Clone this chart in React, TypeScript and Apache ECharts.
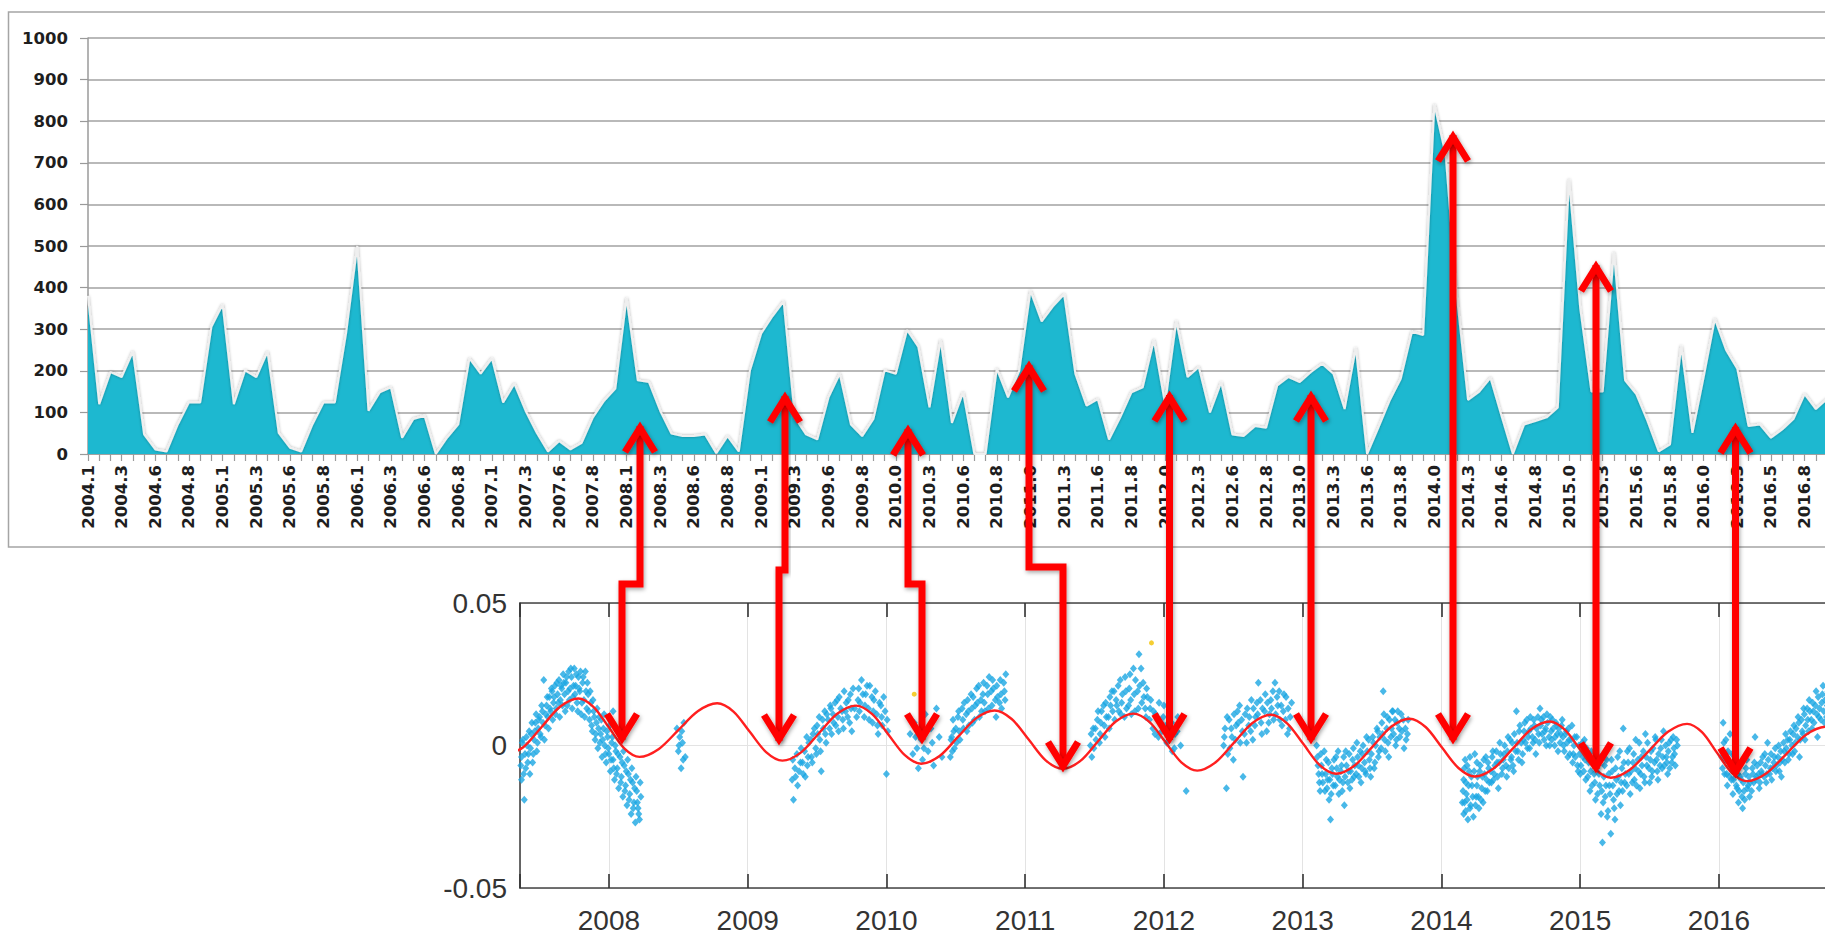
import React, { useEffect, useRef } from "react";
import * as echarts from "echarts";

// ---------- top chart (monthly area) ----------
const tickLabels = [
  "2004.1","2004.3","2004.6","2004.8","2005.1","2005.3","2005.6","2005.8",
  "2006.1","2006.3","2006.6","2006.8","2007.1","2007.3","2007.6","2007.8",
  "2008.1","2008.3","2008.6","2008.8","2009.1","2009.3","2009.6","2009.8",
  "2010.0","2010.3","2010.6","2010.8","2011.0","2011.3","2011.6","2011.8",
  "2012.0","2012.3","2012.6","2012.8","2013.0","2013.3","2013.6","2013.8",
  "2014.0","2014.3","2014.6","2014.8","2015.0","2015.3","2015.6","2015.8",
  "2016.0","2016.3","2016.5","2016.8","2017.0"
];
const lastShownLabel = "2016.8";

const areaValues = [
  380,120,197,185,246,47,11,6,71,124,124,306,359,120,201,185,246,51,15,6,
  71,124,124,290,500,104,148,160,39,84,92,0,39,71,230,193,230,124,169,104,
  51,6,31,11,27,88,128,157,375,177,173,104,49,43,43,47,2,43,6,201,
  290,331,367,88,47,35,136,193,71,43,84,201,193,298,258,112,274,75,148,0,
  0,205,136,200,392,319,355,384,193,116,132,35,88,148,160,274,120,320,185,209,
  100,173,47,43,67,63,165,185,173,197,217,193,108,255,0,63,128,181,294,286,
  840,720,380,130,150,183,90,0,71,79,88,112,660,350,150,150,485,177,144,79,
  6,23,260,51,185,325,250,205,67,71,39,59,84,144,108,132,140
];

const categories = areaValues.map((_, i) =>
  i % 3 === 0 ? tickLabels[i / 3] : tickLabels[Math.floor(i / 3)] + "-" + (i % 3)
);

// ---------- bottom chart (scatter + fitted curve) ----------
const seg2007: number[][] = [
  [2007.37,-0.004],[2007.37,-0.012],[2007.38,0.002],[2007.39,-0.019],[2007.40,-0.008],[2007.41,0.000],
  [2007.42,-0.003],[2007.43,-0.010],[2007.44,0.004],[2007.45,-0.006],[2007.46,0.002],[2007.47,0.008],
  [2007.48,-0.002],[2007.49,0.006],[2007.50,0.010],[2007.51,0.003],[2007.52,0.012],[2007.53,0.023],
  [2007.54,0.007],[2007.55,0.014],[2007.56,0.010],[2007.57,0.017],[2007.58,0.012],[2007.59,0.019],
  [2007.60,0.015],[2007.61,0.021],[2007.62,0.013],[2007.63,0.018],[2007.64,0.023],[2007.65,0.016],
  [2007.66,0.020],[2007.67,0.025],[2007.68,0.018],[2007.69,0.022],[2007.70,0.014],[2007.71,0.026],
  [2007.72,0.020],[2007.73,0.024],[2007.74,0.017],[2007.75,0.027],[2007.76,0.021],[2007.77,0.015],
  [2007.78,0.024],[2007.79,0.019],[2007.80,0.011],[2007.81,0.022],[2007.82,0.016],[2007.83,0.026],
  [2007.84,0.013],[2007.85,0.018],[2007.86,0.009],[2007.87,0.015],[2007.88,0.005],[2007.89,0.012],
  [2007.90,0.002],[2007.91,0.008],[2007.92,-0.001],[2007.93,0.010],[2007.94,0.004],[2007.95,-0.004],
  [2007.96,0.006],[2007.97,0.000],[2007.98,-0.006],[2007.99,0.003],[2008.00,-0.003],[2008.01,-0.009],
  [2008.02,0.001],[2008.03,0.012],[2008.03,-0.005],[2008.04,-0.012],[2008.05,-0.002],[2008.06,-0.008],
  [2008.07,-0.015],[2008.08,-0.004],[2008.09,-0.011],[2008.10,-0.018],[2008.11,-0.007],[2008.12,-0.014],
  [2008.13,-0.021],[2008.14,-0.010],[2008.15,-0.017],[2008.16,-0.024],[2008.17,-0.013],[2008.18,-0.020],
  [2008.19,-0.027],[2008.20,-0.016],[2008.21,-0.022],[2008.22,-0.026],[2008.23,-0.018],
  [2007.365,-0.007],[2007.375,0.001],[2007.385,-0.010],[2007.395,-0.003],[2007.405,0.003],[2007.415,-0.006],
  [2007.425,0.005],[2007.435,-0.001],[2007.445,0.008],[2007.455,-0.003],[2007.465,0.005],[2007.475,0.011],
  [2007.485,0.001],[2007.495,0.009],[2007.505,0.004],[2007.515,0.014],[2007.525,0.008],[2007.535,0.002],
  [2007.545,0.011],[2007.555,0.017],[2007.565,0.006],[2007.575,0.013],[2007.585,0.020],[2007.595,0.009],
  [2007.605,0.017],[2007.615,0.011],[2007.625,0.022],[2007.635,0.015],[2007.645,0.010],[2007.655,0.021],
  [2007.665,0.014],[2007.675,0.022],[2007.685,0.012],[2007.695,0.024],[2007.705,0.019],[2007.715,0.016],
  [2007.725,0.027],[2007.735,0.013],[2007.745,0.021],[2007.755,0.018],[2007.765,0.025],[2007.775,0.012],
  [2007.785,0.020],[2007.795,0.026],[2007.805,0.015],[2007.815,0.024],[2007.825,0.010],[2007.835,0.019],
  [2007.845,0.022],[2007.855,0.012],[2007.865,0.019],[2007.875,0.007],[2007.885,0.016],[2007.895,0.010],
  [2007.905,0.004],[2007.915,0.013],[2007.925,0.006],[2007.935,0.001],[2007.945,0.009],[2007.955,0.002],
  [2007.965,0.011],[2007.975,-0.003],[2007.985,0.005],[2007.995,-0.001],[2008.005,0.007],[2008.015,-0.005],
  [2008.025,0.003],[2008.035,-0.008],[2008.045,0.000],[2008.055,-0.010],[2008.065,-0.003],[2008.075,0.004],
  [2008.085,-0.013],[2008.095,-0.006],[2008.105,-0.002],[2008.115,-0.016],[2008.125,-0.009],[2008.135,-0.005],
  [2008.145,-0.019],[2008.155,-0.012],[2008.165,-0.008],[2008.175,-0.022],[2008.185,-0.015],[2008.195,-0.011],
  [2008.205,-0.020],[2008.215,-0.024],[2008.225,-0.013]
];

const seg2008: number[][] = [
  [2008.49,0.006],[2008.50,-0.002],[2008.51,0.003],[2008.52,-0.008],[2008.53,0.001],[2008.54,0.008],[2008.55,-0.004],
  [2008.505,0.000],[2008.525,0.005],[2008.535,-0.005]
];

const seg2009: number[][] = [
  [2009.32,-0.012],[2009.33,-0.019],[2009.34,-0.008],[2009.36,-0.014],[2009.38,-0.006],[2009.40,-0.010],
  [2009.41,-0.002],[2009.43,-0.007],[2009.44,0.001],[2009.46,-0.004],[2009.47,0.004],[2009.49,-0.001],
  [2009.50,0.007],[2009.52,0.002],[2009.53,-0.009],[2009.54,0.009],[2009.56,0.004],[2009.57,0.011],
  [2009.59,0.006],[2009.60,0.013],[2009.62,0.008],[2009.63,0.015],[2009.65,0.010],[2009.66,0.017],
  [2009.68,0.012],[2009.69,0.006],[2009.71,0.015],[2009.72,0.010],[2009.74,0.018],[2009.75,0.005],
  [2009.77,0.013],[2009.80,0.020],[2009.81,0.015],[2009.82,0.023],[2009.84,0.010],[2009.85,0.018],
  [2009.87,0.013],[2009.88,0.021],[2009.90,0.008],[2009.91,0.016],[2009.93,0.011],[2009.94,0.004],
  [2009.96,0.014],[2009.97,0.007],[2009.99,0.012],[2010.00,-0.010],[2010.01,0.005],
  [2009.325,-0.005],[2009.345,-0.011],[2009.355,-0.003],[2009.37,-0.009],[2009.385,-0.001],[2009.395,-0.006],
  [2009.415,-0.011],[2009.425,0.003],[2009.435,-0.004],[2009.455,0.002],[2009.465,-0.006],[2009.48,0.006],
  [2009.495,-0.003],[2009.505,0.004],[2009.515,0.010],[2009.525,-0.002],[2009.545,0.006],[2009.555,0.012],
  [2009.565,0.001],[2009.58,0.009],[2009.595,0.014],[2009.605,0.004],[2009.615,0.011],[2009.635,0.007],
  [2009.645,0.016],[2009.655,0.005],[2009.67,0.013],[2009.685,0.009],[2009.695,0.019],[2009.705,0.012],
  [2009.725,0.016],[2009.735,0.008],[2009.745,0.013],[2009.76,0.020],[2009.785,0.010],[2009.795,0.016],
  [2009.805,0.012],[2009.83,0.018],[2009.845,0.014],[2009.86,0.021],[2009.875,0.009],[2009.895,0.017],
  [2009.905,0.012],[2009.92,0.019],[2009.935,0.007],[2009.95,0.015],[2009.965,0.010],[2009.98,0.017],
  [2010.005,0.009]
];

const seg2010: number[][] = [
  [2010.17,0.004],[2010.19,-0.003],[2010.20,0.008],[2010.22,-0.001],[2010.23,-0.008],[2010.25,0.002],
  [2010.26,-0.005],[2010.28,0.011],[2010.30,-0.002],[2010.32,0.006],[2010.34,-0.007],[2010.36,0.013],
  [2010.38,0.003],[2010.40,-0.004],[2010.21,0.003],[2010.27,-0.001],[2010.33,0.001],
  [2010.46,-0.004],[2010.47,0.003],[2010.48,0.009],[2010.49,-0.001],[2010.50,0.006],[2010.52,0.012],
  [2010.53,0.002],[2010.55,0.009],[2010.56,0.015],[2010.58,0.005],[2010.59,0.012],[2010.61,0.018],
  [2010.62,0.008],[2010.64,0.014],[2010.65,0.020],[2010.67,0.010],[2010.68,0.016],[2010.70,0.022],
  [2010.71,0.012],[2010.73,0.018],[2010.74,0.024],[2010.76,0.014],[2010.77,0.020],[2010.79,0.010],
  [2010.80,0.017],[2010.82,0.023],[2010.83,0.013],[2010.85,0.019],[2010.86,0.025],
  [2010.465,0.002],[2010.475,-0.002],[2010.485,0.005],[2010.505,0.001],[2010.515,0.010],[2010.525,0.005],
  [2010.545,0.013],[2010.555,0.006],[2010.575,0.011],[2010.585,0.016],[2010.595,0.007],[2010.615,0.013],
  [2010.625,0.017],[2010.635,0.009],[2010.655,0.015],[2010.665,0.021],[2010.685,0.012],[2010.695,0.018],
  [2010.705,0.015],[2010.725,0.021],[2010.735,0.013],[2010.755,0.019],[2010.765,0.023],[2010.785,0.016],
  [2010.795,0.021],[2010.815,0.015],[2010.825,0.018],[2010.845,0.022],[2010.855,0.016]
];

const seg2011: number[][] = [
  [2011.47,0.000],[2011.48,-0.004],[2011.49,0.006],[2011.51,0.002],[2011.52,0.009],[2011.54,0.004],
  [2011.55,0.012],[2011.57,0.007],[2011.58,0.015],[2011.60,0.010],[2011.61,0.017],[2011.63,0.012],
  [2011.64,0.019],[2011.66,0.014],[2011.67,0.021],[2011.69,0.011],[2011.70,0.018],[2011.72,0.024],
  [2011.73,0.013],[2011.75,0.020],[2011.76,0.016],[2011.78,0.027],[2011.79,0.012],[2011.81,0.019],
  [2011.82,0.032],[2011.84,0.015],[2011.85,0.022],[2011.87,0.010],[2011.88,0.017],[2011.90,0.013],
  [2011.92,0.006],[2011.94,0.011],[2011.96,0.003],[2011.98,0.008],[2012.00,0.014],[2012.02,0.001],
  [2012.04,0.006],[2012.06,-0.002],[2012.08,0.004],[2012.10,0.010],[2012.12,0.000],[2012.16,-0.016],
  [2011.475,0.004],[2011.495,-0.001],[2011.505,0.006],[2011.525,0.012],[2011.535,0.001],[2011.545,0.008],
  [2011.565,0.014],[2011.575,0.003],[2011.585,0.010],[2011.605,0.006],[2011.615,0.014],[2011.625,0.019],
  [2011.645,0.009],[2011.655,0.016],[2011.675,0.012],[2011.685,0.023],[2011.695,0.015],[2011.715,0.010],
  [2011.725,0.019],[2011.745,0.014],[2011.755,0.025],[2011.765,0.011],[2011.785,0.018],[2011.795,0.023],
  [2011.815,0.013],[2011.825,0.021],[2011.835,0.027],[2011.855,0.017],[2011.865,0.013],[2011.875,0.020],
  [2011.895,0.009],[2011.905,0.016],[2011.925,0.012],[2011.935,0.004],[2011.955,0.009],[2011.965,0.015],
  [2011.985,0.005],[2011.995,0.010],[2012.015,0.007],[2012.035,0.003],[2012.055,0.008],[2012.075,-0.001],
  [2012.095,0.005]
];

const seg2012: number[][] = [
  [2012.45,-0.015],[2012.43,0.000],[2012.44,0.006],[2012.46,-0.003],[2012.47,0.009],[2012.49,0.003],
  [2012.50,-0.005],[2012.52,0.007],[2012.53,0.012],[2012.55,0.001],[2012.56,0.009],[2012.57,-0.011],
  [2012.58,0.004],[2012.60,0.013],[2012.61,0.007],[2012.63,0.016],[2012.64,0.002],[2012.66,0.010],
  [2012.67,0.015],[2012.68,0.022],[2012.70,0.008],[2012.71,0.013],[2012.73,0.018],[2012.74,0.005],
  [2012.76,0.011],[2012.77,0.016],[2012.79,0.009],[2012.80,0.022],[2012.82,0.014],[2012.83,0.019],
  [2012.85,0.007],[2012.86,0.012],[2012.88,0.017],[2012.89,0.004],[2012.91,0.010],[2012.92,0.015],
  [2012.435,0.003],[2012.455,0.010],[2012.475,-0.001],[2012.485,0.006],[2012.505,0.011],[2012.515,0.002],
  [2012.535,0.008],[2012.545,0.014],[2012.565,0.005],[2012.585,0.011],[2012.595,0.001],[2012.615,0.010],
  [2012.625,0.005],[2012.645,0.013],[2012.655,0.007],[2012.675,0.011],[2012.695,0.016],[2012.705,0.004],
  [2012.725,0.012],[2012.745,0.015],[2012.755,0.008],[2012.775,0.013],[2012.785,0.019],[2012.805,0.011],
  [2012.815,0.017],[2012.835,0.009],[2012.845,0.014],[2012.865,0.018],[2012.875,0.009],[2012.895,0.013],
  [2012.905,0.006]
];

const seg2013: number[][] = [
  [2013.10,0.000],[2013.11,-0.007],[2013.12,-0.013],[2013.13,-0.003],[2013.14,-0.010],[2013.16,-0.016],
  [2013.17,-0.005],[2013.18,-0.012],[2013.19,-0.019],[2013.20,-0.026],[2013.21,-0.008],[2013.22,-0.014],
  [2013.24,-0.004],[2013.25,-0.011],[2013.26,-0.017],[2013.28,-0.007],[2013.29,-0.013],[2013.30,-0.021],
  [2013.31,-0.002],[2013.33,-0.009],[2013.34,-0.015],[2013.36,-0.005],[2013.37,-0.011],[2013.39,0.001],
  [2013.40,-0.007],[2013.42,-0.013],[2013.43,-0.003],[2013.45,-0.009],[2013.46,0.003],[2013.48,-0.005],
  [2013.49,-0.011],[2013.51,0.001],[2013.52,-0.006],[2013.54,0.005],[2013.55,-0.002],[2013.57,0.008],
  [2013.58,0.019],[2013.59,0.002],[2013.61,0.010],[2013.62,-0.004],[2013.64,0.006],[2013.65,0.012],
  [2013.67,0.000],[2013.68,0.008],[2013.70,0.003],[2013.71,0.011],[2013.73,-0.001],[2013.74,0.006],
  [2013.76,0.009],
  [2013.105,-0.004],[2013.115,-0.010],[2013.125,-0.016],[2013.135,-0.007],[2013.145,-0.013],[2013.155,-0.002],
  [2013.165,-0.010],[2013.175,-0.015],[2013.185,-0.006],[2013.195,-0.012],[2013.205,-0.017],[2013.215,-0.010],
  [2013.225,-0.005],[2013.235,-0.014],[2013.245,-0.008],[2013.255,-0.002],[2013.265,-0.012],[2013.275,-0.009],
  [2013.285,-0.016],[2013.295,-0.004],[2013.305,-0.011],[2013.315,-0.007],[2013.325,-0.013],[2013.335,-0.003],
  [2013.345,-0.009],[2013.355,-0.012],[2013.365,-0.001],[2013.375,-0.007],[2013.385,-0.010],[2013.395,-0.004],
  [2013.405,-0.011],[2013.415,-0.002],[2013.425,-0.008],[2013.435,0.000],[2013.445,-0.006],[2013.455,-0.010],
  [2013.465,-0.002],[2013.475,0.002],[2013.485,-0.008],[2013.495,-0.003],[2013.505,0.003],[2013.515,-0.008],
  [2013.525,0.000],[2013.535,0.006],[2013.545,-0.004],[2013.555,0.003],[2013.565,-0.001],[2013.575,0.004],
  [2013.585,0.011],[2013.595,-0.002],[2013.605,0.006],[2013.615,0.001],[2013.625,0.009],[2013.635,0.003],
  [2013.645,0.012],[2013.655,0.004],[2013.665,0.009],[2013.675,0.002],[2013.685,0.012],[2013.695,0.006],
  [2013.715,0.005],[2013.725,0.009],[2013.745,0.002],[2013.755,0.004]
];

const seg2014: number[][] = [
  [2014.15,-0.020],[2014.16,-0.012],[2014.16,-0.024],[2014.17,-0.005],[2014.18,-0.017],[2014.19,-0.026],
  [2014.20,-0.009],[2014.21,-0.021],[2014.22,-0.014],[2014.23,-0.025],[2014.24,-0.003],[2014.25,-0.018],
  [2014.26,-0.011],[2014.27,-0.022],[2014.28,-0.007],[2014.29,-0.015],[2014.30,-0.020],[2014.31,-0.010],
  [2014.32,-0.004],[2014.33,-0.016],[2014.34,-0.008],[2014.36,-0.013],[2014.37,-0.002],[2014.38,-0.010],
  [2014.40,-0.006],[2014.41,-0.015],[2014.42,0.001],[2014.44,-0.008],[2014.45,-0.003],[2014.47,-0.011],
  [2014.48,0.003],[2014.50,-0.005],[2014.51,0.001],[2014.52,-0.009],[2014.54,0.012],[2014.55,-0.002],
  [2014.56,0.005],[2014.58,-0.006],[2014.59,0.002],[2014.60,0.008],[2014.62,-0.001],[2014.63,0.005],
  [2014.64,0.010],[2014.66,0.001],[2014.67,0.007],[2014.68,-0.003],[2014.70,0.004],[2014.71,0.013],
  [2014.72,0.009],[2014.74,0.002],[2014.75,0.006],[2014.76,0.011],[2014.78,0.000],[2014.79,0.005],
  [2014.80,0.009],[2014.82,0.003],[2014.83,0.007],[2014.84,-0.002],[2014.86,0.004],[2014.87,0.009],
  [2014.88,0.000],[2014.90,0.005],[2014.91,-0.004],[2014.92,0.002],[2014.94,0.007],[2014.95,-0.003],
  [2014.96,0.003],[2014.98,-0.007],[2014.99,0.000],[2015.00,-0.010],[2015.02,-0.004],[2015.03,0.002],
  [2015.04,-0.012],[2015.06,-0.006],[2015.07,-0.016],[2015.08,-0.002],[2015.10,-0.010],[2015.11,-0.019],
  [2015.12,-0.007],[2015.14,-0.014],[2015.15,-0.024],[2015.16,-0.034],[2015.17,-0.011],[2015.18,-0.018],
  [2015.19,-0.005],[2015.20,-0.023],[2015.21,-0.014],[2015.22,-0.031],[2015.23,-0.009],[2015.24,-0.019],
  [2015.25,-0.026],[2015.26,-0.012],[2015.27,-0.004],[2015.28,-0.016],[2015.29,-0.021],[2015.30,-0.008],
  [2015.31,0.006],[2015.32,-0.013],[2015.34,-0.002],[2015.35,-0.010],[2015.36,-0.017],[2015.38,-0.006],
  [2015.39,-0.012],[2015.40,0.002],[2015.42,-0.009],[2015.43,-0.015],[2015.44,-0.004],[2015.46,-0.011],
  [2015.47,0.004],[2015.48,-0.007],[2015.50,-0.013],[2015.51,-0.002],[2015.52,-0.009],[2015.54,0.003],
  [2015.55,-0.005],[2015.56,-0.012],[2015.58,-0.001],[2015.59,-0.008],[2015.60,0.005],[2015.62,-0.004],
  [2015.63,-0.010],[2015.64,0.001],[2015.66,-0.006],[2015.67,0.003],[2015.68,-0.003],[2015.70,0.000],
  [2014.155,-0.016],[2014.165,-0.008],[2014.165,-0.020],[2014.175,-0.013],[2014.175,-0.023],[2014.185,-0.007],
  [2014.185,-0.019],[2014.195,-0.014],[2014.205,-0.022],[2014.205,-0.004],[2014.215,-0.011],[2014.225,-0.018],
  [2014.235,-0.009],[2014.245,-0.021],[2014.255,-0.006],[2014.255,-0.014],[2014.265,-0.018],[2014.275,-0.009],
  [2014.285,-0.019],[2014.295,-0.011],[2014.305,-0.005],[2014.315,-0.016],[2014.325,-0.012],[2014.335,-0.006],
  [2014.345,-0.013],[2014.355,-0.009],[2014.365,-0.004],[2014.375,-0.012],[2014.385,-0.007],[2014.395,-0.002],
  [2014.405,-0.011],[2014.415,-0.006],[2014.425,-0.003],[2014.435,-0.010],[2014.445,-0.005],[2014.455,0.000],
  [2014.465,-0.007],[2014.475,-0.002],[2014.485,-0.008],[2014.495,0.002],[2014.505,-0.004],[2014.515,-0.007],
  [2014.525,0.004],[2014.535,-0.002],[2014.545,0.001],[2014.555,-0.005],[2014.565,0.007],[2014.575,0.001],
  [2014.585,-0.003],[2014.595,0.005],[2014.605,0.001],[2014.615,0.009],[2014.625,0.003],[2014.635,-0.001],
  [2014.645,0.006],[2014.655,0.003],[2014.665,0.009],[2014.675,0.002],[2014.685,0.006],[2014.695,0.010],
  [2014.705,0.001],[2014.715,0.007],[2014.725,0.004],[2014.735,0.010],[2014.745,0.005],[2014.755,0.000],
  [2014.765,0.008],[2014.775,0.003],[2014.785,0.010],[2014.795,0.002],[2014.805,0.006],[2014.815,0.000],
  [2014.825,0.008],[2014.835,0.004],[2014.845,0.006],[2014.855,0.001],[2014.865,0.007],[2014.875,0.003],
  [2014.885,-0.002],[2014.895,0.004],[2014.905,0.001],[2014.915,0.006],[2014.925,-0.003],[2014.935,0.002],
  [2014.945,-0.006],[2014.955,0.000],[2014.965,-0.004],[2014.975,0.003],[2014.985,-0.009],[2014.995,-0.003],
  [2015.005,-0.007],[2015.015,0.001],[2015.025,-0.009],[2015.035,-0.005],[2015.045,-0.001],[2015.055,-0.011],
  [2015.065,-0.003],[2015.075,-0.009],[2015.085,-0.014],[2015.095,-0.005],[2015.105,-0.013],[2015.115,-0.008],
  [2015.125,-0.017],[2015.135,-0.010],[2015.145,-0.004],[2015.155,-0.016],[2015.165,-0.020],[2015.175,-0.007],
  [2015.185,-0.014],[2015.195,-0.025],[2015.205,-0.010],[2015.215,-0.017],[2015.225,-0.005],[2015.235,-0.014],
  [2015.245,-0.022],[2015.255,-0.008],[2015.265,-0.017],[2015.275,-0.011],[2015.285,-0.002],[2015.295,-0.013],
  [2015.305,-0.016],[2015.315,-0.006],[2015.325,-0.010],[2015.335,-0.014],[2015.345,-0.006],[2015.355,-0.001],
  [2015.365,-0.009],[2015.375,-0.013],[2015.385,-0.003],[2015.395,-0.008],[2015.405,-0.014],[2015.415,-0.005],
  [2015.425,0.001],[2015.435,-0.010],[2015.445,-0.007],[2015.455,-0.002],[2015.465,-0.013],[2015.475,-0.004],
  [2015.485,0.001],[2015.495,-0.008],[2015.505,-0.005],[2015.515,-0.011],[2015.525,-0.001],[2015.535,-0.006],
  [2015.545,0.002],[2015.555,-0.009],[2015.565,-0.003],[2015.575,-0.007],[2015.585,0.002],[2015.595,-0.004],
  [2015.605,-0.007],[2015.615,0.000],[2015.625,-0.006],[2015.635,-0.002],[2015.645,-0.008],[2015.655,0.002],
  [2015.665,-0.004],[2015.675,-0.001],[2015.685,-0.007],[2015.695,0.002]
];

const seg2016: number[][] = [
  [2016.02,-0.004],[2016.03,0.008],[2016.04,-0.010],[2016.05,0.002],[2016.06,-0.014],[2016.07,-0.006],
  [2016.08,0.004],[2016.09,-0.012],[2016.10,-0.017],[2016.11,-0.003],[2016.12,-0.009],[2016.13,-0.015],
  [2016.14,-0.020],[2016.15,-0.007],[2016.16,-0.012],[2016.17,-0.022],[2016.18,-0.016],[2016.19,-0.010],
  [2016.20,-0.005],[2016.21,-0.014],[2016.22,-0.018],[2016.24,-0.008],[2016.25,-0.013],[2016.26,0.003],
  [2016.27,-0.011],[2016.29,-0.015],[2016.30,-0.006],[2016.31,-0.010],[2016.33,-0.003],[2016.34,-0.013],
  [2016.35,0.001],[2016.37,-0.008],[2016.38,-0.012],[2016.40,-0.004],[2016.41,-0.009],[2016.43,0.000],
  [2016.44,-0.006],[2016.45,-0.011],[2016.47,-0.002],[2016.48,0.004],[2016.50,-0.005],[2016.51,0.002],
  [2016.53,-0.003],[2016.54,0.007],[2016.55,0.001],[2016.57,0.010],[2016.58,-0.004],[2016.60,0.005],
  [2016.61,0.013],[2016.62,0.002],[2016.64,0.009],[2016.65,0.016],[2016.67,0.006],[2016.68,0.012],
  [2016.70,0.019],[2016.71,0.003],[2016.72,0.010],[2016.74,0.015],[2016.75,0.021],[2016.76,0.008],
  [2016.78,0.014],[2016.80,0.018],
  [2016.025,-0.008],[2016.035,0.001],[2016.045,-0.005],[2016.055,-0.010],[2016.065,-0.002],[2016.075,-0.011],
  [2016.085,-0.007],[2016.095,-0.003],[2016.105,-0.012],[2016.115,-0.008],[2016.125,-0.014],[2016.135,-0.010],
  [2016.145,-0.016],[2016.155,-0.011],[2016.165,-0.018],[2016.175,-0.013],[2016.185,-0.019],[2016.195,-0.008],
  [2016.205,-0.015],[2016.215,-0.011],[2016.225,-0.013],[2016.235,-0.016],[2016.245,-0.010],[2016.255,-0.006],
  [2016.265,-0.012],[2016.275,-0.007],[2016.285,-0.010],[2016.295,-0.013],[2016.305,-0.009],[2016.315,-0.004],
  [2016.325,-0.011],[2016.335,-0.007],[2016.345,-0.010],[2016.355,-0.005],[2016.365,-0.010],[2016.375,-0.003],
  [2016.385,-0.008],[2016.395,-0.006],[2016.405,-0.001],[2016.415,-0.007],[2016.425,-0.004],[2016.435,-0.009],
  [2016.445,-0.002],[2016.455,-0.005],[2016.465,0.001],[2016.475,-0.006],[2016.485,-0.001],[2016.495,0.002],
  [2016.505,-0.003],[2016.515,0.005],[2016.525,0.000],[2016.535,0.004],[2016.545,-0.002],[2016.555,0.006],
  [2016.565,0.003],[2016.575,0.008],[2016.585,0.002],[2016.595,0.009],[2016.605,0.004],[2016.615,0.011],
  [2016.625,0.007],[2016.635,0.013],[2016.645,0.005],[2016.655,0.012],[2016.665,0.009],[2016.675,0.015],
  [2016.685,0.008],[2016.695,0.014],[2016.705,0.011],[2016.715,0.017],[2016.725,0.013],[2016.735,0.009],
  [2016.745,0.018],[2016.755,0.012],[2016.765,0.016],[2016.775,0.010],[2016.785,0.019],[2016.795,0.013],
  [2016.81,0.016],[2016.82,0.011]
];

const scatterOrange: number[][] = [[2010.2, 0.018], [2011.91, 0.036]];

const fitCurve: number[][] = [
  [2007.25,-0.0035],[2007.3825,-0.0006],[2007.515,0.0065],[2007.6475,0.0136],
  [2007.78,0.0165],[2007.89,0.0135],[2008.00,0.0063],[2008.11,-0.0010],
  [2008.22,-0.0040],[2008.36,-0.0012],[2008.50,0.0054],[2008.64,0.0120],
  [2008.78,0.0148],[2008.8975,0.0119],[2009.015,0.0048],[2009.1325,-0.0023],
  [2009.25,-0.0053],[2009.3825,-0.0025],[2009.515,0.0044],[2009.6475,0.0112],
  [2009.78,0.0140],[2009.8975,0.0110],[2010.015,0.0038],[2010.1325,-0.0034],
  [2010.25,-0.0064],[2010.3825,-0.0037],[2010.515,0.0030],[2010.6475,0.0096],
  [2010.78,0.0123],[2010.9025,0.0093],[2011.025,0.0021],[2011.1475,-0.0052],
  [2011.27,-0.0082],[2011.3975,-0.0054],[2011.525,0.0015],[2011.6525,0.0084],
  [2011.78,0.0112],[2011.895,0.0083],[2012.01,0.0012],[2012.125,-0.0059],
  [2012.24,-0.0088],[2012.3725,-0.0059],[2012.505,0.0010],[2012.6375,0.0079],
  [2012.77,0.0108],[2012.8875,0.0078],[2013.005,0.0005],[2013.1225,-0.0069],
  [2013.24,-0.0099],[2013.3725,-0.0071],[2013.505,-0.0003],[2013.6375,0.0066],
  [2013.77,0.0094],[2013.8875,0.0064],[2014.005,-0.0008],[2014.1225,-0.0079],
  [2014.24,-0.0109],[2014.375,-0.0081],[2014.51,-0.0013],[2014.645,0.0056],
  [2014.78,0.0084],[2014.89,0.0055],[2015.00,-0.0015],[2015.11,-0.0084],
  [2015.22,-0.0113],[2015.3575,-0.0085],[2015.495,-0.0019],[2015.6325,0.0048],
  [2015.77,0.0076],[2015.8775,0.0047],[2015.985,-0.0025],[2016.0925,-0.0096],
  [2016.20,-0.0125],[2016.3425,-0.0097],[2016.485,-0.0030],[2016.6275,0.0038],
  [2016.77,0.0066],[2016.8775,0.0037],[2016.985,-0.0032],[2017.0925,-0.0101],
  [2017.20,-0.0130]
];
const lastYearLabel = 2016;

// ---------- annotation arrows (pixel layout) ----------
const arrowSpecs = [
  { x1: 640, x2: 622, jogY: 584, top: 422, bottom: 744 },
  { x1: 785, x2: 779, jogY: 570, top: 392, bottom: 745 },
  { x1: 908, x2: 922, jogY: 584, top: 425, bottom: 744 },
  { x1: 1029, x2: 1063, jogY: 567, top: 361, bottom: 772 },
  { x1: 1169.5, x2: 1169.5, jogY: 0, top: 391, bottom: 744 },
  { x1: 1311, x2: 1311, jogY: 0, top: 391, bottom: 744 },
  { x1: 1453, x2: 1453, jogY: 0, top: 131, bottom: 744 },
  { x1: 1596, x2: 1596, jogY: 0, top: 261, bottom: 773 },
  { x1: 1735.5, x2: 1735.5, jogY: 0, top: 423, bottom: 778 }
];

function buildArrows() {
  const red = "#ff0000";
  const shadow = {
    shadowColor: "rgba(0,0,0,0.35)",
    shadowBlur: 4,
    shadowOffsetX: 1,
    shadowOffsetY: 2
  };
  const stroke = { fill: "none", stroke: red, lineWidth: 7, lineJoin: "miter", lineCap: "butt", ...shadow };
  const els: any[] = [];
  arrowSpecs.forEach((a) => {
    if (a.x1 === a.x2) {
      els.push({
        type: "rect", z: 100,
        shape: { x: a.x1 - 3.5, y: a.top + 4, width: 7, height: a.bottom - a.top - 8 },
        style: { fill: red, ...shadow }
      });
    } else {
      els.push({
        type: "polyline", z: 100,
        shape: { points: [[a.x1, a.top + 4], [a.x1, a.jogY], [a.x2, a.jogY], [a.x2, a.bottom - 4]] },
        style: { ...stroke }
      });
    }
    els.push({
      type: "polyline", z: 100,
      shape: { points: [[a.x1 - 15, a.top + 30], [a.x1, a.top + 6], [a.x1 + 15, a.top + 30]] },
      style: { ...stroke }
    });
    els.push({
      type: "polyline", z: 100,
      shape: { points: [[a.x2 - 15, a.bottom - 30], [a.x2, a.bottom - 6], [a.x2 + 15, a.bottom - 30]] },
      style: { ...stroke }
    });
  });
  return els;
}

export default function App() {
  const ref = useRef<HTMLDivElement>(null);
  useEffect(() => {
    const chart = echarts.init(ref.current!, null, { renderer: "svg" });
    const topFont = { fontFamily: "DejaVu Sans", fontWeight: "bold", fontSize: 16.5, color: "#1e1e1e" };
    const botFont = { fontFamily: "Liberation Sans", fontSize: 28, color: "#333" };
    const scatterBlue = [
      ...seg2007, ...seg2008, ...seg2009, ...seg2010, ...seg2011,
      ...seg2012, ...seg2013, ...seg2014, ...seg2016
    ];
    const lastIdx = tickLabels.indexOf(lastShownLabel);
    const option: any = {
      animation: false,
      backgroundColor: "#ffffff",
      grid: [
        { left: 88, top: 38, width: 1750.3, height: 416 },
        { left: 520, top: 603, width: 1365.5, height: 285 }
      ],
      xAxis: [
        {
          gridIndex: 0,
          type: "category",
          data: categories,
          boundaryGap: false,
          axisLine: { show: true, lineStyle: { color: "#9a9a9a", width: 1.5 } },
          axisTick: { show: true, interval: 0, length: 7, lineStyle: { color: "#9a9a9a", width: 1.2 } },
          axisLabel: {
            interval: 2,
            rotate: 90,
            margin: 11,
            ...topFont,
            formatter: (v: string, i: number) => (i / 3 > lastIdx ? "" : v)
          },
          splitLine: { show: false }
        },
        {
          gridIndex: 1,
          type: "value",
          min: 2007.359,
          max: 2017.2,
          minInterval: 1,
          maxInterval: 1,
          axisLine: { show: true, onZero: false, lineStyle: { color: "#444", width: 1.6 } },
          axisTick: { show: true, inside: true, length: 14, lineStyle: { color: "#333", width: 1.6 } },
          axisLabel: {
            margin: 18,
            ...botFont,
            formatter: (v: number) =>
              Math.abs(v - Math.round(v)) < 1e-6 && Math.round(v) <= lastYearLabel ? String(Math.round(v)) : ""
          },
          splitLine: { show: true, lineStyle: { color: "#e3e3e3", width: 1 } }
        },
        {
          gridIndex: 1,
          type: "value",
          position: "top",
          min: 2007.359,
          max: 2017.2,
          minInterval: 1,
          maxInterval: 1,
          axisLine: { show: true, onZero: false, lineStyle: { color: "#444", width: 1.6 } },
          axisTick: { show: true, inside: true, length: 14, lineStyle: { color: "#333", width: 1.6 } },
          axisLabel: { show: false },
          splitLine: { show: false }
        }
      ],
      yAxis: [
        {
          gridIndex: 0,
          type: "value",
          min: 0,
          max: 1000,
          interval: 100,
          axisLine: { show: true, lineStyle: { color: "#9a9a9a", width: 1.5 } },
          axisTick: { show: true, length: 8, lineStyle: { color: "#9a9a9a", width: 1.2 } },
          axisLabel: { margin: 20, ...topFont, formatter: (v: number) => String(v) },
          splitLine: { show: true, lineStyle: { color: "#a2a2a2", width: 1.5 } }
        },
        {
          gridIndex: 1,
          type: "value",
          min: -0.05,
          max: 0.05,
          interval: 0.05,
          axisLine: { show: true, onZero: false, lineStyle: { color: "#444", width: 1.6 } },
          axisTick: { show: false },
          axisLabel: {
            margin: 13,
            ...botFont,
            formatter: (v: number) => (Math.abs(v) < 1e-9 ? "0" : v.toFixed(2))
          },
          splitLine: { show: true, lineStyle: { color: "#e3e3e3", width: 1 } }
        }
      ],
      series: [
        {
          type: "line",
          xAxisIndex: 0,
          yAxisIndex: 0,
          data: areaValues,
          symbol: "none",
          lineStyle: {
            color: "#efefef",
            width: 2,
            shadowColor: "rgba(0,0,0,0.35)",
            shadowBlur: 3
          },
          areaStyle: { color: "#1db8d0", opacity: 1 },
          z: 3
        },
        {
          type: "scatter",
          xAxisIndex: 1,
          yAxisIndex: 1,
          data: scatterBlue,
          symbol: "diamond",
          symbolSize: [7, 8],
          itemStyle: { color: "#1aa6e2" },
          clip: true,
          z: 3
        },
        {
          type: "scatter",
          xAxisIndex: 1,
          yAxisIndex: 1,
          data: scatterOrange,
          symbol: "circle",
          symbolSize: 5,
          itemStyle: { color: "#f2c200" },
          clip: true,
          z: 3
        },
        {
          type: "line",
          xAxisIndex: 1,
          yAxisIndex: 1,
          data: fitCurve,
          symbol: "none",
          smooth: 0.3,
          clip: true,
          lineStyle: { color: "#ff1f1f", width: 2.4 },
          z: 4
        }
      ],
      graphic: [
        {
          type: "rect",
          z: 0,
          shape: { x: 8.5, y: 12, width: 1960, height: 535 },
          style: { fill: "none", stroke: "#a5a5a5", lineWidth: 1.5 }
        },
        ...buildArrows()
      ]
    };
    chart.setOption(option);
    return () => chart.dispose();
  }, []);
  return (
    <div
      style={{ position: "absolute", left: 0, top: 0, width: 1825, height: 934, overflow: "hidden", background: "#fff" }}
    >
      <div ref={ref} style={{ width: 2000, height: 934 }} />
    </div>
  );
}
